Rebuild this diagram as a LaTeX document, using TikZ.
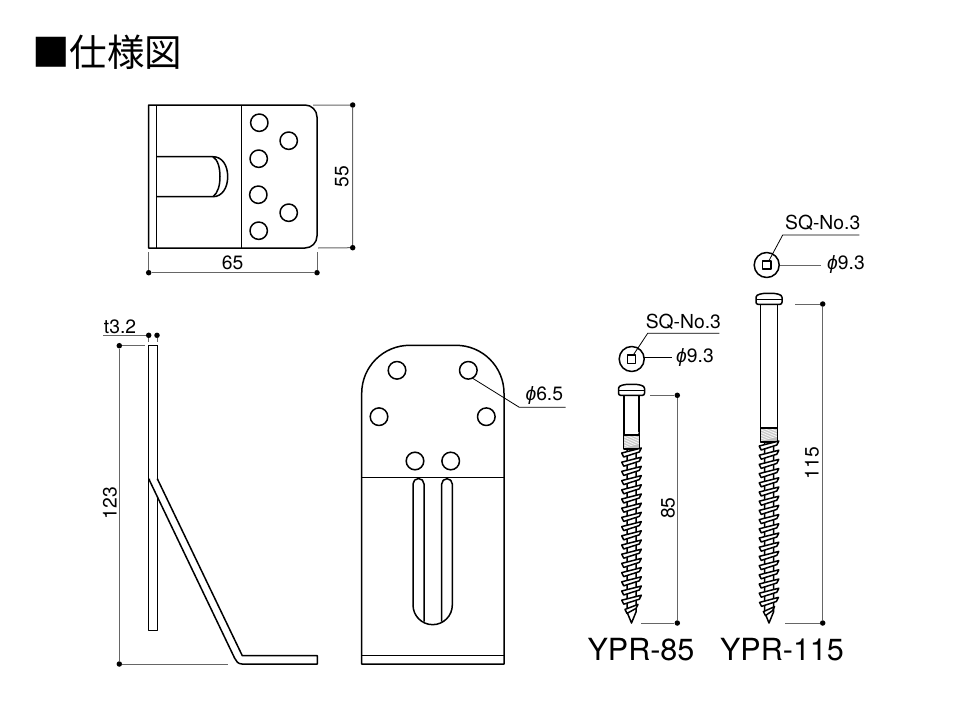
\documentclass[tikz,border=0pt]{standalone}
\usepackage{fontspec}
\setmainfont{TeX Gyre Heros}
\newfontfamily\cjkfont{Noto Sans CJK JP}
\newfontfamily\phifont{Liberation Sans}
\tikzset{
  part/.style={line width=1.5pt,line join=round},
  dimline/.style={line width=1pt,black!60},
  leader/.style={line width=0.8pt},
  dimdot/.style={circle,fill=black,inner sep=0pt,minimum size=5.5pt},
  dimtext/.style={font=\fontsize{19.3}{19.3}\selectfont,inner sep=0pt},
  sizetext/.style={font=\fontsize{30.5}{30.5}\selectfont,inner sep=0pt}
}
\newcommand{\phimark}{{\phifont\itshape ϕ}}
% one screw, #1 centre x, #2 head top, #3 shank end, #4 number of turns, #5 half width of shank
\newcommand{\screwdraw}[5]{
  \draw[part,fill=white] (#1-#5,#2+10) -- (#1-#5,#3+14) -- (#1+#5,#3+14) -- (#1+#5,#2+10);
  \fill[black!25] (#1-#5+0.5,#3) rectangle (#1+#5-0.5,#3+13);
  \foreach \i in {1,...,8}
    \draw[white,line width=0.6pt] (#1-#5+0.5,#3+14-\i*1.6) -- (#1+#5-0.5,#3+10-\i*1.6);
  \draw[part] (#1-#5,#3) -- (#1+#5,#3);
  \draw[part,fill=white,rounded corners=2pt] (#1-13,#2+11) -- (#1-13,#2+6) .. controls (#1-13,#2+1) and (#1-7,#2) .. (#1,#2)
    .. controls (#1+7,#2) and (#1+13,#2+1) .. (#1+13,#2+6) -- (#1+13,#2+11) -- cycle;
  \draw[part] (#1-13,#2+6) -- (#1+13,#2+6);
  \draw[part,fill=white] (#1-4.5,#3+14) -- (#1-4.5,612) -- (#1,623) -- (#1+4.5,612) -- (#1+4.5,#3+14) -- cycle;
  \foreach \i in {1,...,#4}{
    \pgfmathsetmacro\ty{#3+18+\i*9.2-9.2}
    \pgfmathsetmacro\tw{min(9.8,(625-\ty)/2.4)}
    \draw[part,fill=white] (#1-\tw,\ty) -- (#1+\tw,\ty-5) -- (#1+\tw-2,\ty-1) -- (#1-\tw+2,\ty+4) -- cycle;
  }
}
\begin{document}
\begin{tikzpicture}[x=1pt,y=-1pt]
  \useasboundingbox (0,0) rectangle (960,720);
  \node[anchor=west,inner sep=0pt,font=\cjkfont\fontsize{37.5}{37.5}\selectfont] (title) at (32,52) {■仕様図};

  % top view
  \draw[part] (148.7,105) -- (305,105) arc(-90:0:12) -- (317,236) arc(0:90:12) -- (148.7,248) -- cycle;
  \draw[part] (156.7,105) -- (156.7,248);
  \draw[part] (241.7,105) -- (241.7,248);
  \draw[part] (156.7,156.7) -- (213,156.7) .. controls (222,156.7) and (227.7,165) .. (227.7,176.7)
    .. controls (227.7,188) and (222,196.7) .. (213,196.7) -- (156.7,196.7);
  \draw[part] (213,156.7) .. controls (218,160) and (220,168) .. (220,176.7)
    .. controls (220,185) and (218,193) .. (213,196.7);
  \foreach \hx/\hy in {259.3/122.7,288.7/140.7,258.7/158.7,258.3/194.7,288.7/212.7,258.7/230.7}
    \draw[part] (\hx,\hy) circle (8.7);
  \coordinate (tr) at (313,105);
  \coordinate (br) at (318,248);
  \node[dimdot] (h1) at (352.7,105) {};
  \node[dimdot] (h2) at (352.7,247.7) {};
  \draw[dimline] (tr) -- (h1) -- (h2) -- (br);
  \node[dimtext,rotate=90] (h) at (341.7,176.7) {55};
  \coordinate (wl) at (148.7,252);
  \coordinate (wr) at (317,252);
  \node[dimdot] (w1) at (148.7,272.7) {};
  \node[dimdot] (w2) at (317,272.7) {};
  \draw[dimline] (wl) -- (w1) -- (w2) -- (wr);
  \node[dimtext] (w) at (232.7,262.7) {65};

  % side view
  \draw[part] (148.7,345.3) rectangle (157.3,630.7);
  \draw[part,fill=white] (157.3,478.7) -- (242.3,655.7) -- (317.3,655.7) -- (317.3,664) -- (242,664)
    .. controls (238,664) and (236,661) .. (234.7,658.3) -- (149.3,480) -- (149.3,478.7);
  \draw[part] (157.3,345.3) -- (157.3,478.7);
  \draw[part] (148.7,345.3) -- (148.7,480);
  \node[dimdot] (t1) at (148.7,335.3) {};
  \node[dimdot] (t2) at (157,335.3) {};
  \coordinate (t0) at (103.3,335.3);
  \draw[dimline] (t0) -- (t1);
  \draw[dimline,line width=0.6pt] (t1) -- +(0,7);
  \draw[dimline,line width=0.6pt] (t2) -- +(0,7);
  \node[dimtext] (t) at (120,327) {t3.2};
  \node[dimdot] (a1) at (119.3,345.7) {};
  \node[dimdot] (a2) at (119.3,664) {};
  \coordinate (at) at (145,345.7);
  \coordinate (ab) at (228.3,664);
  \draw[dimline] (at) -- (a1) -- (a2) -- (ab);
  \node[dimtext,rotate=90] (a) at (110,503.3) {123};

  % front view
  \draw[part] (361.7,393.3) arc(180:270:48) -- (456,345.3) arc(-90:0:48) -- (504,664) -- (361.7,664) -- cycle;
  \draw[part] (361.7,477.3) -- (504,477.3);
  \draw[part] (361.7,655.3) -- (504,655.3);
  \foreach \hx/\hy in {397/370.3,468.3/370.3,379/416.7,486.3/416.7,415/461,450.7/461}
    \draw[part] (\hx,\hy) circle (8.8);
  \draw[part] (413,605) -- (413,484) arc(180:360:5.5) -- (424,621.7);
  \draw[part] (452.3,605) -- (452.3,484) arc(0:-180:5.3) -- (441.7,621.7);
  \draw[part] (413,605) arc(180:0:19.65);
  \coordinate (hole) at (472.7,378.3);
  \coordinate (hk) at (519.3,407.3);
  \coordinate (he) at (565.7,407.3);
  \draw[leader] (hole) -- (hk) -- (he);
  \node[dimtext] (d) at (544.3,396) {\phimark6.5};

  % short screw
  \draw[part] (631.7,359) circle (12.5);
  \draw[part] (627.5,355) rectangle (635.7,363.3);
  \coordinate (s1) at (633.3,355);
  \coordinate (s2) at (647.7,333.3);
  \coordinate (s3) at (719.3,333.3);
  \draw[leader] (s1) -- (s2) -- (s3);
  \node[dimtext] (sq) at (683.3,321.7) {SQ-No.3};
  \coordinate (p1) at (644.3,357.7);
  \coordinate (p2) at (671.7,357.7);
  \draw[leader] (p1) -- (p2);
  \node[dimtext] (phi) at (695,357.5) {\phimark9.3};
  \screwdraw{631.5}{384.3}{435}{18}{7.7}
  \node[dimdot] (b1) at (677.3,395.3) {};
  \node[dimdot] (b2) at (677.3,623) {};
  \coordinate (bt) at (650,395.3);
  \coordinate (bb) at (640.7,623);
  \draw[dimline] (bt) -- (b1) -- (b2) -- (bb);
  \node[dimtext,rotate=90] (b) at (668,508) {85};
  \node[sizetext] (ypra) at (641,650) {YPR-85};

  % long screw
  \draw[part] (766.7,265) circle (12.5);
  \draw[part] (762.7,261) rectangle (771,269);
  \coordinate (u1) at (769.3,260);
  \coordinate (u2) at (782.7,235);
  \coordinate (u3) at (859.3,235);
  \draw[leader] (u1) -- (u2) -- (u3);
  \node[dimtext] (sqb) at (822.7,223.3) {SQ-No.3};
  \coordinate (q1) at (780,265);
  \coordinate (q2) at (820.7,265);
  \draw[dimline] (q1) -- (q2);
  \node[dimtext] (phib) at (846,264.3) {\phimark9.3};
  \screwdraw{769}{293.3}{428}{19}{8.3}
  \node[dimdot] (c1) at (822.7,304) {};
  \node[dimdot] (c2) at (822.7,623) {};
  \coordinate (ct) at (795,304);
  \coordinate (cb) at (785,623);
  \draw[dimline] (ct) -- (c1) -- (c2) -- (cb);
  \node[dimtext,rotate=90] (c) at (812,463) {115};
  \node[sizetext] (yprb) at (782,650) {YPR-115};
\end{tikzpicture}
\end{document}
